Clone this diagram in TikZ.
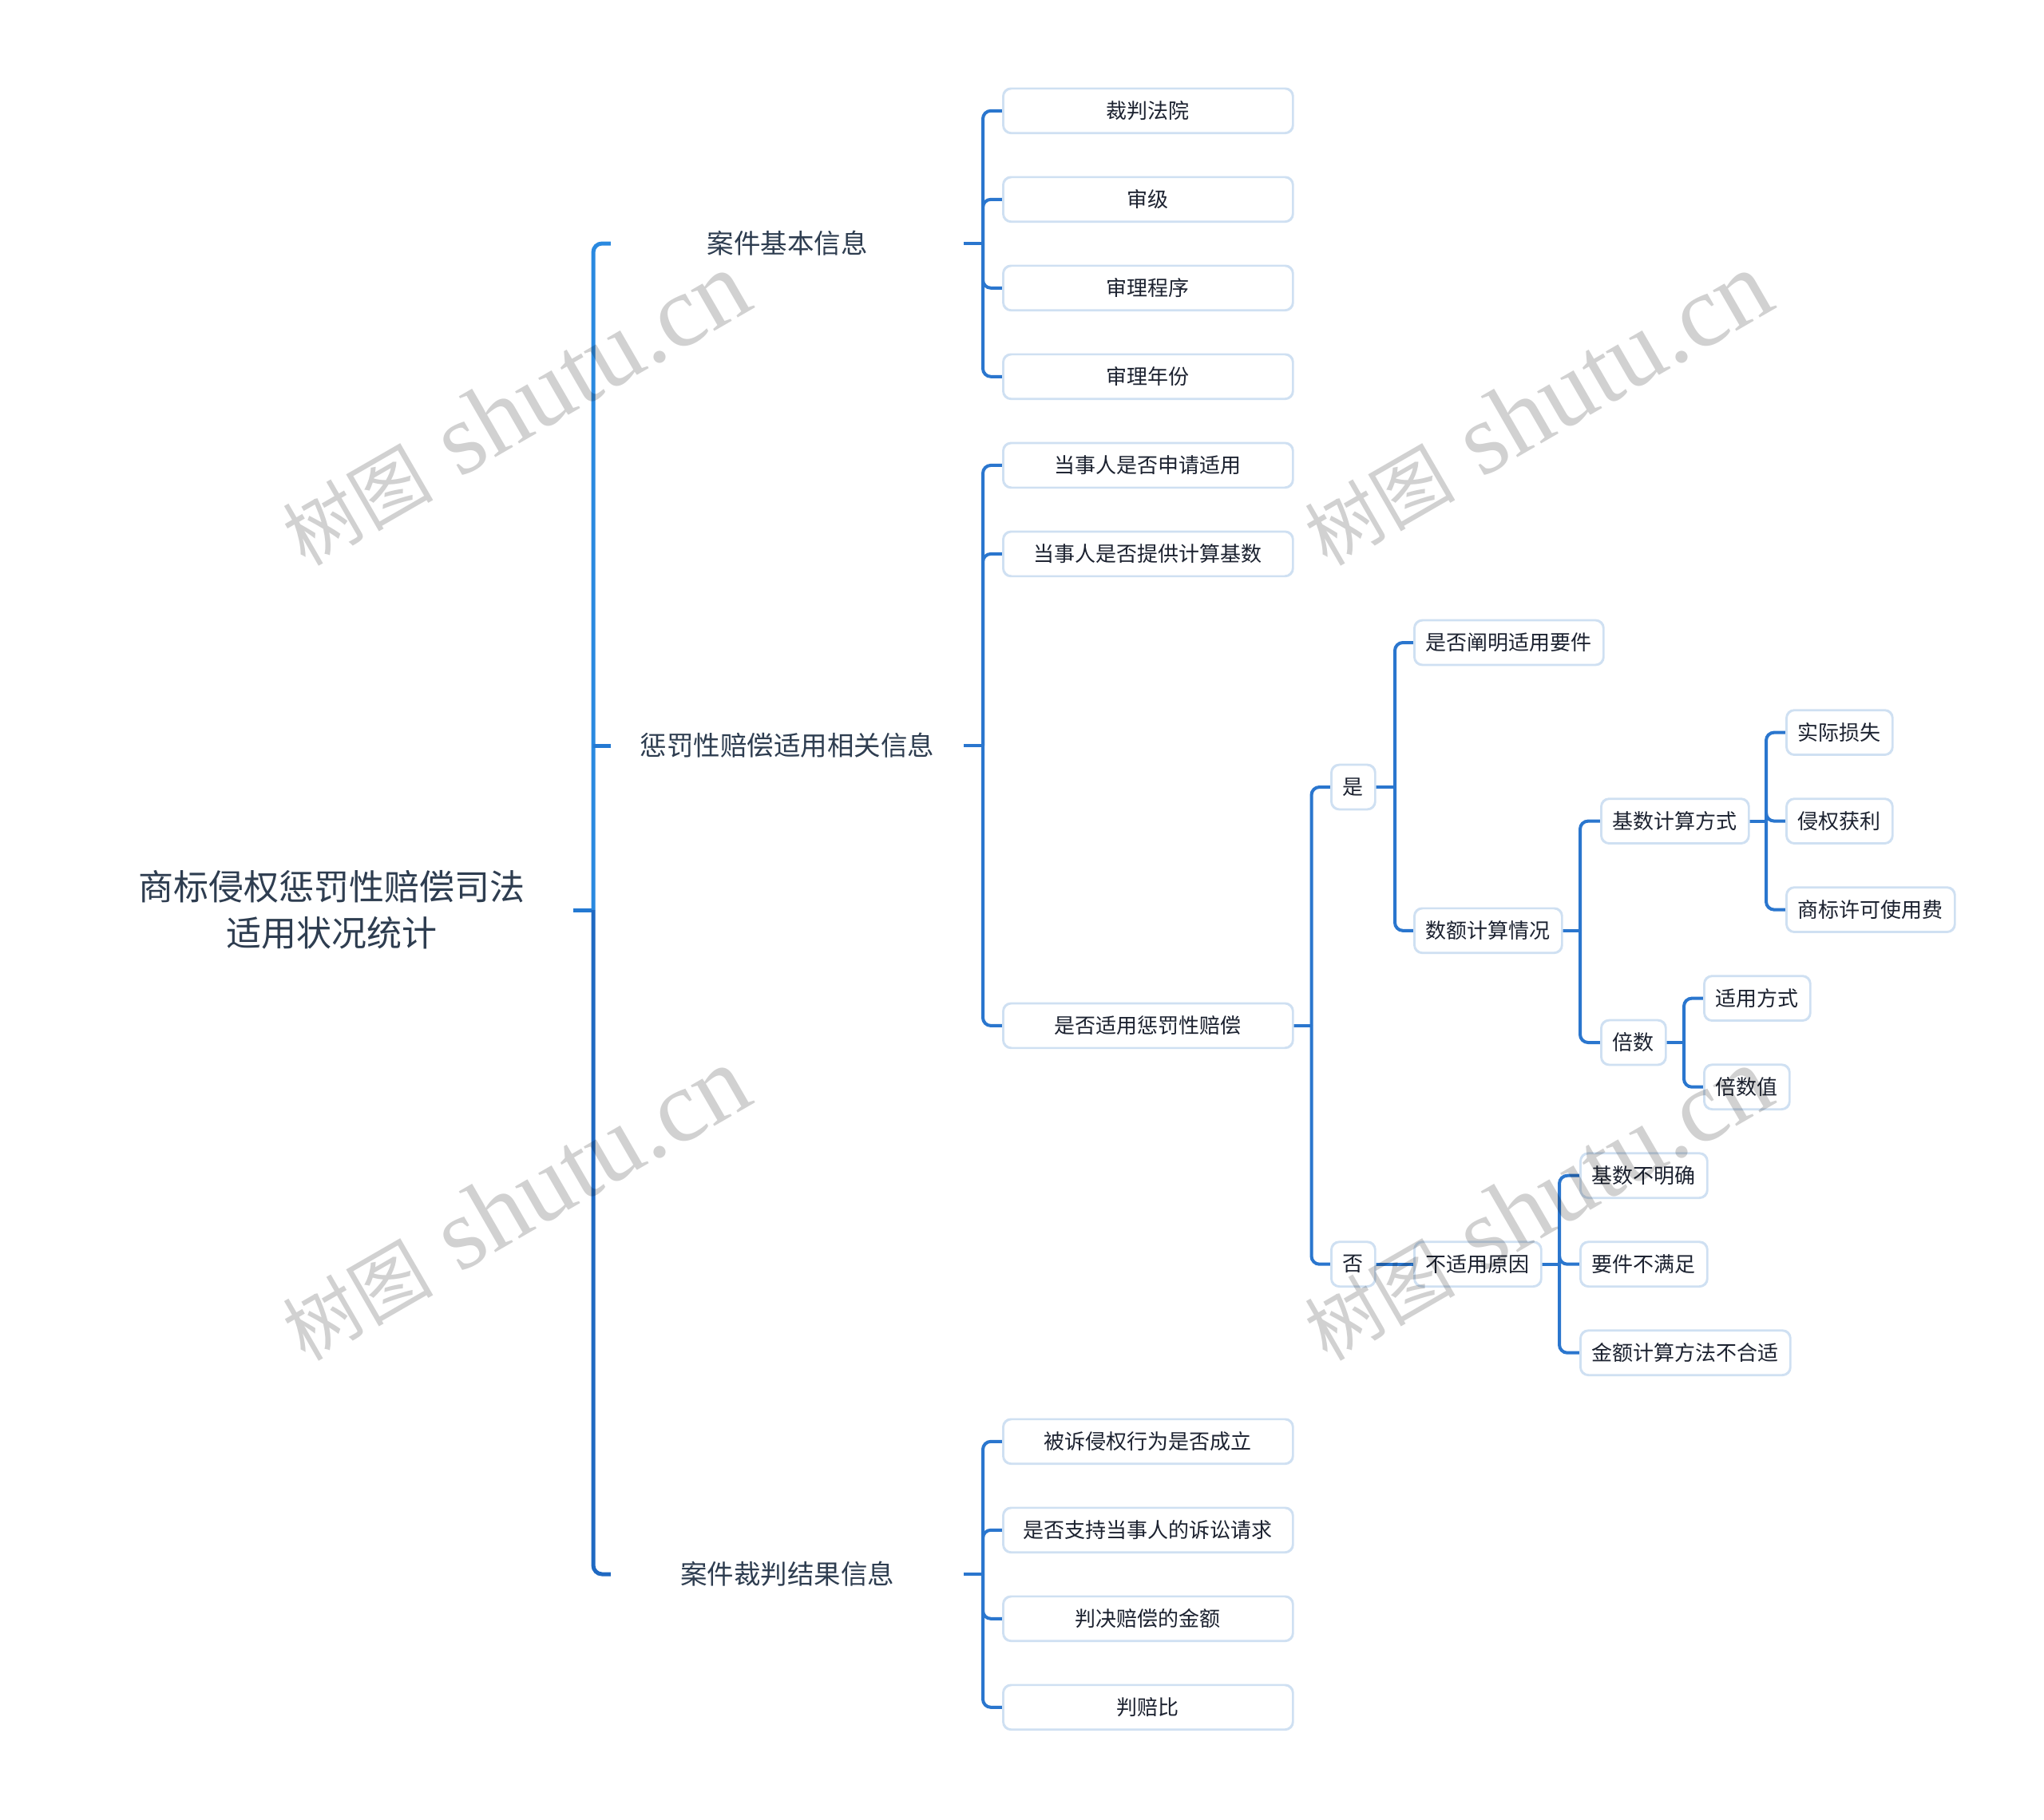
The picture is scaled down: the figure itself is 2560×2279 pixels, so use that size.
\documentclass[tikz,border=0pt]{standalone}
\usepackage{fontspec}
\setmainfont{Noto Sans CJK SC}
\newfontfamily\wmserif{Liberation Serif}
\usetikzlibrary{calc}
\definecolor{trunkA}{HTML}{2A89E0}
\definecolor{trunkB}{HTML}{2479D2}
\definecolor{trunkC}{HTML}{1F69C2}
\definecolor{linec}{HTML}{2A76CE}
\definecolor{boxline}{HTML}{CFE0F2}
\definecolor{roottext}{HTML}{2E3D50}
\definecolor{leaftext}{HTML}{1C2230}
\begin{document}
\begin{tikzpicture}[x=1pt,y=-1pt,
  rootnode/.style={align=center, text=roottext, font=\fontsize{44}{58}\selectfont, minimum width=606pt, inner sep=0pt},
  mainnode/.style={text=roottext, font=\fontsize{33.5}{40}\selectfont, minimum width=442pt, inner sep=0pt},
  leafbox/.style={draw=boxline, line width=1.8pt, fill=white, rounded corners=10pt, text=leaftext,
    font=\fontsize{26}{30}\selectfont, minimum height=55pt, inner xsep=14pt, inner ysep=0pt, anchor=west},
  widebox/.style={leafbox, minimum width=362pt},
  trunkline/.style={line width=5pt, rounded corners=11pt},
  conn/.style={line width=4pt, draw=linec, rounded corners=10pt},
  wm/.style={rotate=30, text=black, text opacity=0.18, inner sep=0pt},
]
\fill[white] (0,0) rectangle (2560,2279);
\useasboundingbox (0,0) rectangle (2560,2279);

% root and main branches
\node[rootnode] (root) at (415,1140) {商标侵权惩罚性赔偿司法\\适用状况统计};
\node[mainnode] (m1) at (986,305) {案件基本信息};
\node[mainnode] (m2) at (986,934) {惩罚性赔偿适用相关信息};
\node[mainnode] (m3) at (986,1972) {案件裁判结果信息};

% level 2
\node[widebox] (a1) at (1256,138.8) {裁判法院};
\node[widebox] (a2) at (1256,249.8) {审级};
\node[widebox] (a3) at (1256,360.8) {审理程序};
\node[widebox] (a4) at (1256,471.8) {审理年份};
\node[widebox] (b1) at (1256,582.9) {当事人是否申请适用};
\node[widebox] (b2) at (1256,693.9) {当事人是否提供计算基数};
\node[widebox] (b3) at (1256,1284.9) {是否适用惩罚性赔偿};
\node[widebox] (c1) at (1256,1805.8) {被诉侵权行为是否成立};
\node[widebox] (c2) at (1256,1916.8) {是否支持当事人的诉讼请求};
\node[widebox] (c3) at (1256,2027.8) {判决赔偿的金额};
\node[widebox] (c4) at (1256,2138.8) {判赔比};

% deeper levels
\node[leafbox] (yes) at (1667,986) {是};
\node[leafbox] (no) at (1667,1583.7) {否};
\node[leafbox] (y1) at (1771,805) {是否阐明适用要件};
\node[leafbox] (y2) at (1771,1165.8) {数额计算情况};
\node[leafbox] (z1) at (2005,1028.6) {基数计算方式};
\node[leafbox] (z2) at (2005,1306) {倍数};
\node[leafbox] (k1) at (2237,917.6) {实际损失};
\node[leafbox] (k2) at (2237,1028.6) {侵权获利};
\node[leafbox] (k3) at (2237,1139.6) {商标许可使用费};
\node[leafbox] (t1) at (2134,1250.6) {适用方式};
\node[leafbox] (t2) at (2134,1361.7) {倍数值};
\node[leafbox] (n1) at (1771,1583.7) {不适用原因};
\node[leafbox] (r1) at (1979,1472.7) {基数不明确};
\node[leafbox] (r2) at (1979,1583.7) {要件不满足};
\node[leafbox] (r3) at (1979,1694.7) {金额计算方法不合适};

% bracket x positions
\coordinate (T) at (743,0);
\coordinate (B) at (1231,0);
\coordinate (Bb3) at (1642.5,0);
\coordinate (Byes) at (1747,0);
\coordinate (By2) at (1979,0);
\coordinate (Bz1) at (2212,0);
\coordinate (Bz2) at (2109,0);
\coordinate (Bn1) at (1953,0);

% trunk
\draw[trunkline, draw=trunkB] (root.east) -- (root.east -| T);
\draw[trunkline, draw=trunkA] (root.east -| T) |- (m1.west);
\draw[trunkline, draw=trunkC] (root.east -| T) |- (m3.west);
\draw[trunkline, draw=trunkB] (m2.west -| T) -- (m2.west);

% level 2 brackets
\draw[conn] (m1.east) -- (m1.east -| B);
\foreach \c in {a1,a2,a3,a4} \draw[conn] (m1.east -| B) |- (\c.west);
\draw[conn] (m2.east) -- (m2.east -| B);
\foreach \c in {b1,b2,b3} \draw[conn] (m2.east -| B) |- (\c.west);
\draw[conn] (m3.east) -- (m3.east -| B);
\foreach \c in {c1,c2,c3,c4} \draw[conn] (m3.east -| B) |- (\c.west);

% deeper
\draw[conn] (b3.east) -- (b3.east -| Bb3);
\foreach \c in {yes,no} \draw[conn] (b3.east -| Bb3) |- (\c.west);
\draw[conn] (yes.east) -- (yes.east -| Byes);
\foreach \c in {y1,y2} \draw[conn] (yes.east -| Byes) |- (\c.west);
\draw[conn] (y2.east) -- (y2.east -| By2);
\foreach \c in {z1,z2} \draw[conn] (y2.east -| By2) |- (\c.west);
\draw[conn] (z1.east) -- (z1.east -| Bz1);
\foreach \c in {k1,k2,k3} \draw[conn] (z1.east -| Bz1) |- (\c.west);
\draw[conn] (z2.east) -- (z2.east -| Bz2);
\foreach \c in {t1,t2} \draw[conn] (z2.east -| Bz2) |- (\c.west);
\draw[conn] (no.east) -- (n1.west);
\draw[conn] (n1.east) -- (n1.east -| Bn1);
\foreach \c in {r1,r2,r3} \draw[conn] (n1.east -| Bn1) |- (\c.west);

% redraw box borders above connectors
\foreach \c in {a1,a2,a3,a4,b1,b2,b3,c1,c2,c3,c4,yes,no,y1,y2,z1,z2,k1,k2,k3,t1,t2,n1,r1,r2,r3}
  \draw[draw=boxline, line width=1.8pt, rounded corners=10pt] (\c.south west) rectangle (\c.north east);

% watermarks
\foreach \p/\q in {645/512, 1925/512, 645/1508, 1925/1508}
  \node[wm] (wm) at (\p,\q) {{\fontsize{94}{94}\selectfont 树图}\hspace{34pt}{\wmserif\fontsize{128}{128}\selectfont shutu.cn}};
\end{tikzpicture}
\end{document}
